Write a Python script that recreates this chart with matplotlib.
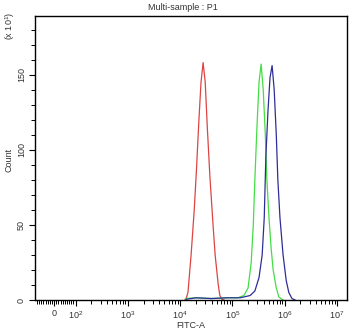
import numpy as np
import matplotlib
matplotlib.use('Agg')
import matplotlib.pyplot as plt

plt.rcParams['font.family'] = ['Liberation Sans', 'DejaVu Sans']
plt.rcParams['mathtext.fontset'] = 'custom'
plt.rcParams['mathtext.rm'] = 'Liberation Sans'
plt.rcParams['mathtext.it'] = 'Liberation Sans'
plt.rcParams['mathtext.default'] = 'regular'

# histogram traces, x given as log10(FITC-A), y as count (x10)
red_log = [4.09, 4.11, 4.15, 4.21, 4.27, 4.31, 4.36, 4.40, 4.44, 4.48, 4.52,
           4.57, 4.63, 4.67, 4.73, 4.76, 4.80, 4.84]
red_cnt = [0, 0.5, 5, 30, 60, 85, 120, 145, 158, 145, 115,
           82, 50, 30, 10, 3, 0.5, 0]

green_log = [4.10, 4.30, 4.60, 4.90, 5.10, 5.22, 5.30, 5.36, 5.40, 5.43, 5.47,
             5.51, 5.55, 5.59, 5.63, 5.66, 5.70, 5.74, 5.78, 5.84, 5.89,
             5.97]
green_cnt = [1, 1.5, 1, 1.5, 1.5, 3, 8, 25, 50, 80, 115,
             145, 157, 140, 110, 80, 55, 35, 20, 8, 2,
             0]

blue_log = [4.12, 4.30, 4.60, 4.90, 5.15, 5.34, 5.43, 5.51, 5.57, 5.61, 5.64,
            5.68, 5.72, 5.76, 5.80, 5.84, 5.87, 5.91, 5.97, 6.03, 6.08,
            6.14, 6.20]
blue_cnt = [0.5, 1.5, 1, 1.5, 1.5, 3, 6, 15, 30, 55, 95,
            125, 148, 156, 140, 110, 80, 55, 30, 13, 5,
            1, 0]

major_pos = [0, 1e2, 1e3, 1e4, 1e5, 1e6, 1e7]
major_lab = ['0', '$10^{2}$', '$10^{3}$', '$10^{4}$', '$10^{5}$', '$10^{6}$', '$10^{7}$']

fig = plt.figure(figsize=(3.5, 3.33), dpi=100)
ax = fig.add_axes([0.1, 0.099, 0.891, 0.853])

ax.plot(10**np.array(red_log), red_cnt, color='#dd4444', lw=0.9)
ax.plot(10**np.array(green_log), green_cnt, color='#44dd44', lw=0.9)
ax.plot(10**np.array(blue_log), blue_cnt, color='#2e2e98', lw=0.9)

ax.set_xscale('symlog', linthresh=100, linscale=0.37)
ax.set_xlim(-89, 1.55e7)
ax.set_ylim(0, 189)

ax.set_xticks(major_pos)
ax.set_xticklabels(major_lab)
minor = [v for v in range(-80, 100, 10) if v != 0]
for k in range(2, 7):
  minor += [m * 10**k for m in range(2, 10)]
ax.set_xticks(minor, minor=True)

ax.set_yticks([0, 50, 100, 150])
ax.set_yticks(np.arange(0, 190, 10), minor=True)
ax.set_yticklabels(['0', '50', '100', '150'], rotation=90, va='center')

ax.tick_params(which='major', length=4.5, width=0.8, labelsize=6.5,
               labelcolor='#333333', pad=2)
ax.tick_params(which='minor', length=3, width=0.7)
for s in ax.spines.values():
  s.set_linewidth(1.0)

fig.text(183/350, 1 - 8/333, 'Multi-sample : P1', ha='center', va='center',
         fontsize=6.5, color='#333333')
fig.text(191/350, 1 - 325/333, 'FITC-A', ha='center', va='center',
         fontsize=6.5, color='#333333')
fig.text(9/350, 1 - 160/333, 'Count', ha='center', va='center', rotation=90,
         fontsize=6.5, color='#333333')
fig.text(10/350, 1 - 26/333, '(x 10$^{1}$)', ha='center', va='center',
         rotation=90, fontsize=6.5, color='#333333')

plt.savefig('out.png', dpi=100)
